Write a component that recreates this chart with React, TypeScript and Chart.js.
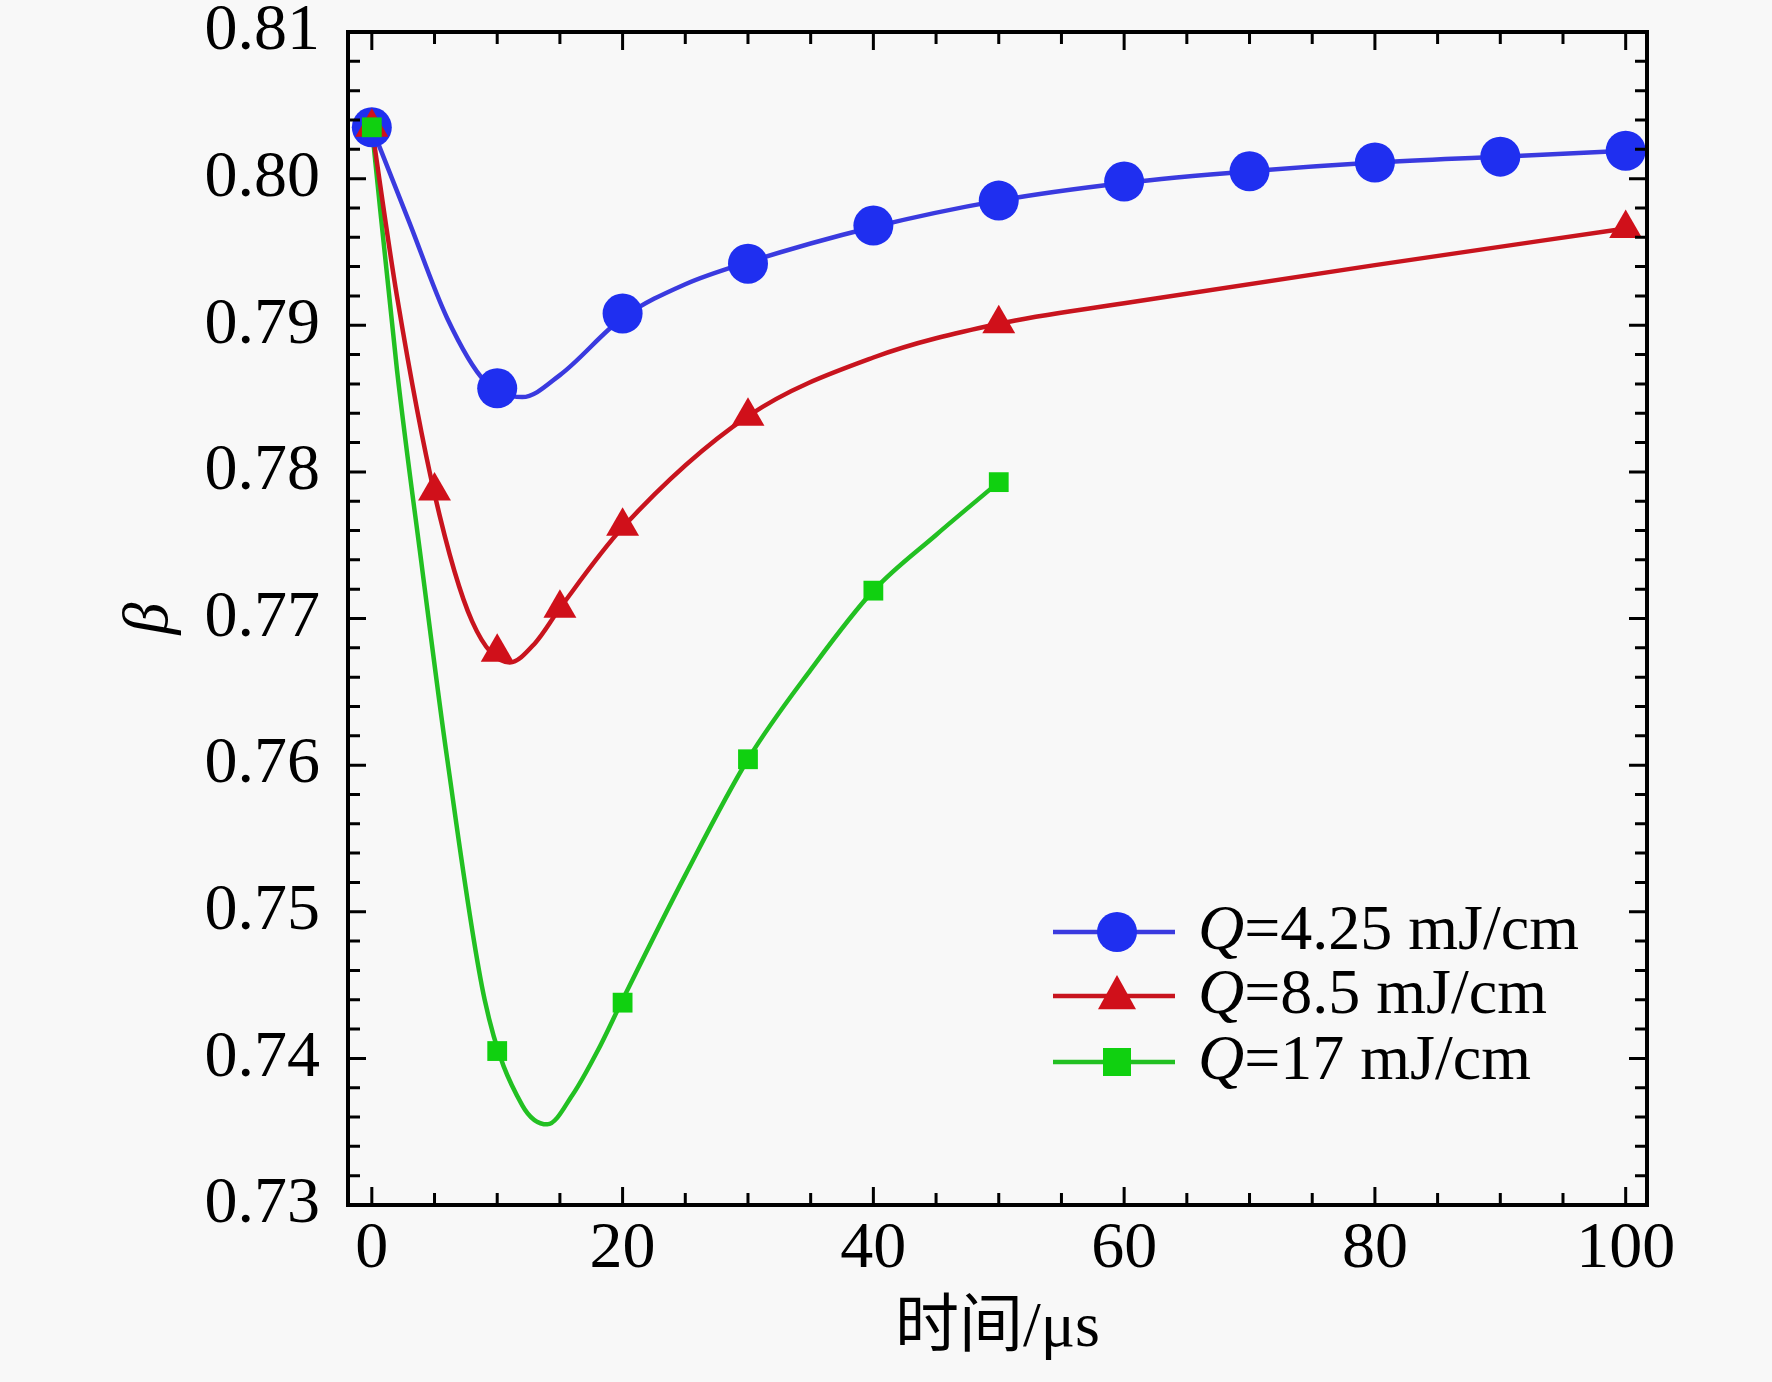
import React, { useEffect, useRef } from "react";
import { Chart, registerables } from "chart.js";
Chart.register(...registerables);

const blueX = [0, 10, 20, 30, 40, 50, 60, 70, 80, 90, 100];
const blueY = [0.8035, 0.7857, 0.7908, 0.7942, 0.7968, 0.7985, 0.7998, 0.8005, 0.8011, 0.8015, 0.8019];
const redX = [0, 5, 10, 15, 20, 30, 50, 100];
const redY = [0.8035, 0.7787, 0.7677, 0.7707, 0.7763, 0.7838, 0.7901, 0.7966];
const greenX = [0, 10, 20, 30, 40, 50];
const greenY = [0.8035, 0.7405, 0.7438, 0.7604, 0.7719, 0.7793];

// smooth fitted curves
const blueCurveX = [0, 3, 6, 9, 12, 15, 20, 25, 30, 40, 50, 60, 70, 80, 90, 100];
const blueCurveY = [0.8035, 0.797, 0.7905, 0.7862, 0.7851, 0.7866, 0.7905, 0.7928, 0.7943, 0.7967, 0.7985, 0.7997, 0.8005, 0.8011, 0.8015, 0.8019];
const redCurveX = [0, 2, 5, 8, 11, 13, 15, 20, 30, 40, 50, 60, 80, 100];
const redCurveY = [0.8035, 0.792, 0.7785, 0.7698, 0.767, 0.7683, 0.7707, 0.7762, 0.7838, 0.7878, 0.7901, 0.7915, 0.7941, 0.7966];
const greenCurveX = [0, 2, 4, 6, 9, 12, 14, 16, 18, 20, 25, 30, 35, 40, 45, 50];
const greenCurveY = [0.8035, 0.787, 0.7735, 0.7605, 0.744, 0.7368, 0.7355, 0.7375, 0.7405, 0.744, 0.7525, 0.7604, 0.7665, 0.7719, 0.7757, 0.7793];

const seriesLabels = ["=4.25 mJ/cm", "=8.5 mJ/cm", "=17 mJ/cm"];
const colors = ["#3a3adf", "#c8141e", "#22c022"];
const markerColors = ["#1f2ff0", "#d0101a", "#10d010"];
const pointStyles = ["circle", "triangle", "rect"];
const pointRadii = [20, 19, 14];
const xMajor = [0, 20, 40, 60, 80, 100];
const yMajor = [0.73, 0.74, 0.75, 0.76, 0.77, 0.78, 0.79, 0.8, 0.81];

const SERIF = '"Liberation Serif", "Times New Roman", serif';

const pts = (xs: number[], ys: number[]) => xs.map((x, i) => ({ x, y: ys[i] }));

const drawMarker = (ctx: CanvasRenderingContext2D, style: string, x: number, y: number, r: number, c: string) => {
  ctx.fillStyle = c;
  ctx.beginPath();
  if (style === "circle") ctx.arc(x, y, r, 0, Math.PI * 2);
  else if (style === "triangle") {
    ctx.moveTo(x, y - r * 1.1);
    ctx.lineTo(x + r, y + r * 0.7);
    ctx.lineTo(x - r, y + r * 0.7);
    ctx.closePath();
  } else ctx.rect(x - r, y - r, 2 * r, 2 * r);
  ctx.fill();
};

const decor = {
  id: "decor",
  beforeDraw(chart: any) {
    const ctx = chart.ctx;
    ctx.save();
    ctx.fillStyle = "#f8f8f8";
    ctx.fillRect(0, 0, chart.width, chart.height);
    ctx.restore();
  },
  afterDraw(chart: any) {
    const ctx = chart.ctx;
    const a = chart.chartArea;
    const xs = chart.scales.x, ys = chart.scales.y;
    ctx.save();
    ctx.strokeStyle = "#000";
    ctx.lineWidth = 4;
    ctx.strokeRect(a.left, a.top, a.right - a.left, a.bottom - a.top);
    ctx.lineWidth = 3;
    for (let v = 0; v <= 100; v += 5) {
      const px = xs.getPixelForValue(v);
      const len = v % 20 === 0 ? 18 : 12;
      ctx.beginPath();
      ctx.moveTo(px, a.bottom); ctx.lineTo(px, a.bottom - len);
      ctx.moveTo(px, a.top); ctx.lineTo(px, a.top + len);
      ctx.stroke();
    }
    for (let i = 0; i <= 40; i++) {
      const v = 0.73 + i * 0.002;
      const py = ys.getPixelForValue(v);
      const len = i % 5 === 0 ? 18 : 12;
      ctx.beginPath();
      ctx.moveTo(a.left, py); ctx.lineTo(a.left + len, py);
      ctx.moveTo(a.right, py); ctx.lineTo(a.right - len, py);
      ctx.stroke();
    }
    ctx.fillStyle = "#000";
    ctx.font = `66px ${SERIF}`;
    ctx.textAlign = "center";
    ctx.textBaseline = "top";
    xMajor.forEach((v) => ctx.fillText(String(v), xs.getPixelForValue(v), a.bottom + 12));
    ctx.textAlign = "right";
    ctx.textBaseline = "middle";
    yMajor.forEach((v) => ctx.fillText(v.toFixed(2), a.left - 28, ys.getPixelForValue(v)));
    ctx.textAlign = "center";
    ctx.textBaseline = "top";
    ctx.font = `64px ${SERIF}, "Noto Sans CJK SC"`;
    ctx.fillText("时间/μs", (a.left + a.right) / 2, a.bottom + 92);
    ctx.save();
    ctx.translate(150, (a.top + a.bottom) / 2);
    ctx.rotate(-Math.PI / 2);
    ctx.textBaseline = "middle";
    ctx.font = `italic 64px ${SERIF}`;
    ctx.fillText("β", 0, 0);
    ctx.restore();
    const rows = [932, 996, 1062];
    rows.forEach((ry, i) => {
      ctx.strokeStyle = colors[i];
      ctx.lineWidth = 4.5;
      ctx.beginPath();
      ctx.moveTo(1053, ry); ctx.lineTo(1175, ry);
      ctx.stroke();
      drawMarker(ctx, pointStyles[i], 1117, ry, pointRadii[i], markerColors[i]);
      ctx.fillStyle = "#000";
      ctx.textAlign = "left";
      ctx.textBaseline = "middle";
      ctx.font = `italic 64px ${SERIF}`;
      ctx.fillText("Q", 1198, ry);
      const w = ctx.measureText("Q").width;
      ctx.font = `64px ${SERIF}`;
      ctx.fillText(seriesLabels[i], 1198 + w, ry);
    });
    ctx.restore();
  },
};

export default function App() {
  const ref = useRef<HTMLCanvasElement>(null);
  useEffect(() => {
    const curveDs = (xs: number[], ys: number[], c: string) => ({
      data: pts(xs, ys), borderColor: c, borderWidth: 4.5, pointRadius: 0,
      cubicInterpolationMode: "monotone" as const, showLine: true, fill: false,
    });
    const markDs = (xs: number[], ys: number[], i: number) => ({
      data: pts(xs, ys), showLine: false, pointStyle: pointStyles[i], pointRadius: pointRadii[i],
      backgroundColor: markerColors[i], borderColor: markerColors[i], borderWidth: 0,
    });
    const chart = new Chart(ref.current!, {
      type: "scatter",
      data: {
        datasets: [
          markDs(greenX, greenY, 2),
          markDs(redX, redY, 1),
          markDs(blueX, blueY, 0),
          curveDs(blueCurveX, blueCurveY, colors[0]),
          curveDs(redCurveX, redCurveY, colors[1]),
          curveDs(greenCurveX, greenCurveY, colors[2]),
        ] as any,
      },
      options: {
        animation: false,
        responsive: false,
        layout: { padding: { left: 348, top: 32, right: 125, bottom: 177 } },
        plugins: { legend: { display: false }, tooltip: { enabled: false } },
        scales: {
          x: { type: "linear", min: -1.9, max: 101.7, display: false },
          y: { type: "linear", min: 0.73, max: 0.81, display: false },
        },
      },
      plugins: [decor],
    });
    return () => chart.destroy();
  }, []);
  return <canvas ref={ref} width={1772} height={1382} style={{ display: "block", position: "absolute", left: 0, top: 0 }} />;
}
